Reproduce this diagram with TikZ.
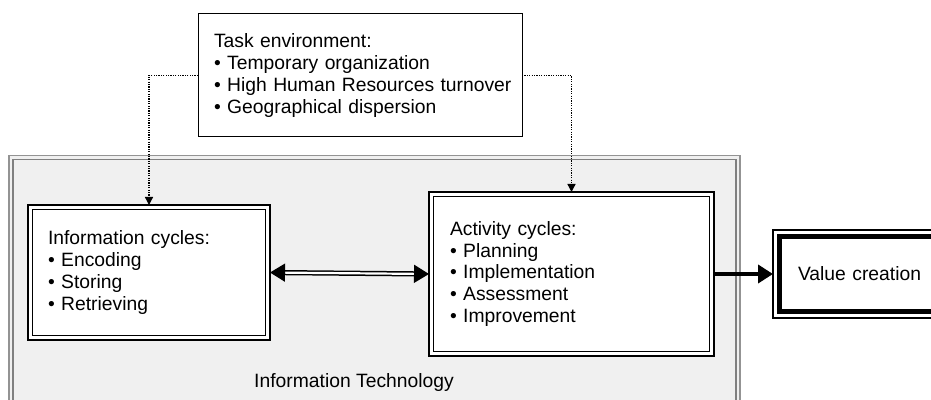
\documentclass[tikz,border=0pt]{standalone}
\usepackage{fontspec}
\setmainfont{Liberation Sans}
\usetikzlibrary{arrows.meta}
\tikzset{
  txt/.style={font=\fontsize{19.3}{21.7}\selectfont, align=left},
  cyclebox/.style={txt, draw, line width=2.6pt, fill=white, outer sep=0pt},
  taskbox/.style={txt, draw, line width=1pt, fill=white, outer sep=0pt},
  valuebox/.style={txt, draw, line width=2pt, fill=white, outer sep=0pt},
  envarrow/.style={dash pattern=on 1.2pt off 1.2pt, line width=1.3pt, -{Triangle[length=8pt,width=8pt]}},
}
\begin{document}
\begin{tikzpicture}[x=1pt,y=1pt]
\path[use as bounding box, clip] (0,0) rectangle (931,399);
% information technology area
\fill[gray!12] (9,-20) rectangle (740,243.5);
\draw[gray!85, line width=1.5pt] (9,-20) rectangle (740,243.5);
\draw[gray, line width=1.6pt] (13,-20) rectangle (736,239.5);
\node[txt] (itlab) at (354,16) {Information Technology};
% boxes
\node[taskbox, minimum width=324, minimum height=123, inner xsep=16pt, text width=292] (task) at (360,323.5)
  {Task environment:\\• Temporary organization\\\mbox{• High Human Resources turnover}\\• Geographical dispersion};
\node[cyclebox, minimum width=242, minimum height=135, inner xsep=20pt, text width=202] (info) at (149,126.5)
  {Information cycles:\\• Encoding\\• Storing\\• Retrieving};
\node[cyclebox, minimum width=285, minimum height=164, inner xsep=21pt, text width=243] (act) at (571.5,125)
  {Activity cycles:\\• Planning\\• Implementation\\• Assessment\\• Improvement};
\node[valuebox, minimum width=207, minimum height=88, inner xsep=25pt, text width=157] (value) at (876.5,125)
  {Value creation};
% inner frames
\foreach \n in {info,act}
  \draw[line width=1pt] ([shift={(4.6,4.6)}]\n.south west) rectangle ([shift={(-4.6,-4.6)}]\n.north east);
\draw[line width=5pt] ([shift={(6.8,6.8)}]value.south west) rectangle ([shift={(-6.8,-6.8)}]value.north east);
% connectors
\draw[envarrow] (task.west) -| (info.north);
\draw[envarrow] (task.east) -| (act.north);
\draw[double, double distance=2.2pt, line width=1.5pt, {Triangle[length=15pt,width=18pt]}-{Triangle[length=15pt,width=18pt]}] (info.east) -- (act.west);
\draw[line width=4.6pt, -{Triangle[length=15pt,width=18pt]}] (act.east) -- (value.west);
\end{tikzpicture}
\end{document}
